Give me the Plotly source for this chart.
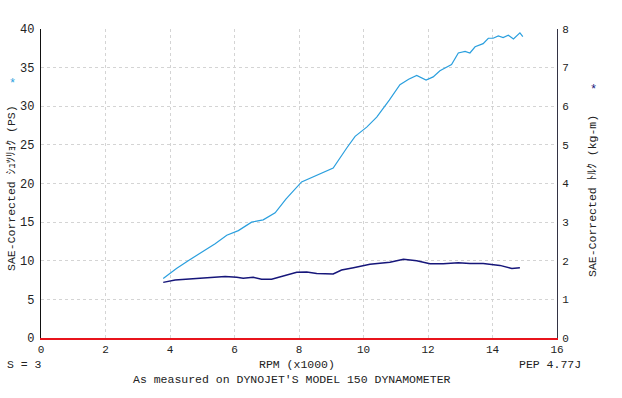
import plotly.graph_objects as go

# Power curve (PS) vs RPM (x1000)
power_rpm = [3.79, 4.2, 4.6, 5.0, 5.4, 5.76, 6.12, 6.53, 6.89, 7.26, 7.6, 8.08, 8.55, 9.06, 9.48,
             9.74, 10.1, 10.41, 10.8, 11.13, 11.4, 11.65, 11.94, 12.16, 12.37, 12.73, 12.94, 13.15,
             13.30, 13.46, 13.71, 13.87, 14.02, 14.18, 14.33, 14.49, 14.65, 14.85, 14.94]
power_ps = [7.7, 9.0, 10.1, 11.1, 12.2, 13.3, 13.9, 15.0, 15.3, 16.2, 18.0, 20.2, 21.1, 22.0, 24.6,
            26.1, 27.3, 28.6, 30.8, 32.8, 33.5, 34.0, 33.4, 33.8, 34.6, 35.4, 36.9, 37.1,
            36.9, 37.7, 38.1, 38.8, 38.8, 39.1, 38.9, 39.2, 38.7, 39.5, 39.0]

# Torque curve (kg-m) vs RPM (x1000)
torque_rpm = [3.79, 4.16, 4.93, 5.71, 6.07, 6.27, 6.58, 6.84, 7.15, 7.51, 7.93, 8.24, 8.55, 9.06,
              9.32, 9.69, 10.2, 10.82, 11.24, 11.65, 12.06, 12.47, 12.94, 13.3, 13.71, 14.23, 14.6, 14.85]
torque_kgm = [1.44, 1.50, 1.55, 1.59, 1.57, 1.55, 1.57, 1.52, 1.52, 1.61, 1.70, 1.71, 1.67, 1.66,
              1.76, 1.82, 1.91, 1.96, 2.04, 2.00, 1.92, 1.92, 1.95, 1.93, 1.93, 1.88, 1.80, 1.82]

x_ticks = [0, 2, 4, 6, 8, 10, 12, 14, 16]
left_ticks = [0, 5, 10, 15, 20, 25, 30, 35, 40]
right_ticks = [0, 1, 2, 3, 4, 5, 6, 7, 8]

FONT = "Liberation Mono, DejaVu Sans Mono, Noto Sans CJK JP, monospace"
TXT = "#222222"
GRID = "#d4d4d4"

W, H = 622, 398
# plot box in window pixels: x 41..557, y 29..338 (page body margin removed)
L, T = 41, 29
R = W - 557
B = H - 338
PW, PH = W - L - R, H - T - B


def px(x):
    return (x - L) / PW


def py(y):
    return (H - B - y) / PH


fig = go.Figure()
fig.add_trace(go.Scatter(x=power_rpm, y=power_ps, mode="lines",
                         line=dict(color="#2a9fde", width=1.2), yaxis="y", showlegend=False))
fig.add_trace(go.Scatter(x=torque_rpm, y=torque_kgm, mode="lines",
                         line=dict(color="#16167a", width=1.5), yaxis="y2", showlegend=False))

fig.update_layout(
    width=W, height=H,
    margin=dict(l=L, r=R, t=T, b=B, pad=0),
    paper_bgcolor="white", plot_bgcolor="white",
    font=dict(family=FONT, size=11, color=TXT),
    xaxis=dict(range=[0, 16], tickvals=x_ticks, ticktext=[str(v) for v in x_ticks],
               showgrid=True, gridcolor=GRID, griddash="dot", gridwidth=1,
               showline=True, linecolor="#e8141c", linewidth=1.5,
               zeroline=False, ticks="", tickfont=dict(size=11, color=TXT)),
    yaxis=dict(range=[0, 40], tickvals=left_ticks, ticktext=[str(v) for v in left_ticks],
               showgrid=True, gridcolor=GRID, griddash="dot", gridwidth=1,
               showline=True, linecolor="#111111", linewidth=1.2,
               zeroline=False, ticks="", ticklabelstandoff=3,
               tickfont=dict(size=12, color=TXT)),
    yaxis2=dict(range=[0, 8], tickvals=right_ticks, ticktext=[str(v) for v in right_ticks],
                overlaying="y", side="right", showgrid=False,
                showline=True, linecolor="#333344", linewidth=1.2,
                zeroline=False, ticks="", ticklabelstandoff=2,
                tickfont=dict(size=11, color=TXT)),
)

ann = [
    dict(text="SAE-Corrected ｼｭﾂﾘｮｸ (PS)", x=px(11), y=py(188), textangle=-90,
         font=dict(size=11.5)),
    dict(text="*", x=px(12), y=py(84), font=dict(size=12, color="#2a9fde")),
    dict(text="SAE-Corrected ﾄﾙｸ (kg-m)", x=px(592), y=py(196), textangle=-90,
         font=dict(size=11.5)),
    dict(text="*", x=px(593), y=py(90), font=dict(size=12, color="#16167a")),
    dict(text="S = 3", x=px(5), y=py(364), xanchor="left", font=dict(size=11.5)),
    dict(text="RPM (x1000)", x=px(297), y=py(364), font=dict(size=11.5)),
    dict(text="PEP 4.77J", x=px(583), y=py(364), xanchor="right", font=dict(size=11.5)),
    dict(text="As measured on DYNOJET'S MODEL 150 DYNAMOMETER", x=px(292), y=py(379),
         font=dict(size=11.5)),
]
for a in ann:
    a.setdefault("xanchor", "center")
    a.update(xref="paper", yref="paper", yanchor="middle", showarrow=False)
    fig.add_annotation(**a)

fig.write_html("out.html", config={"displayModeBar": False},
               post_script="document.body.style.margin='0';")
